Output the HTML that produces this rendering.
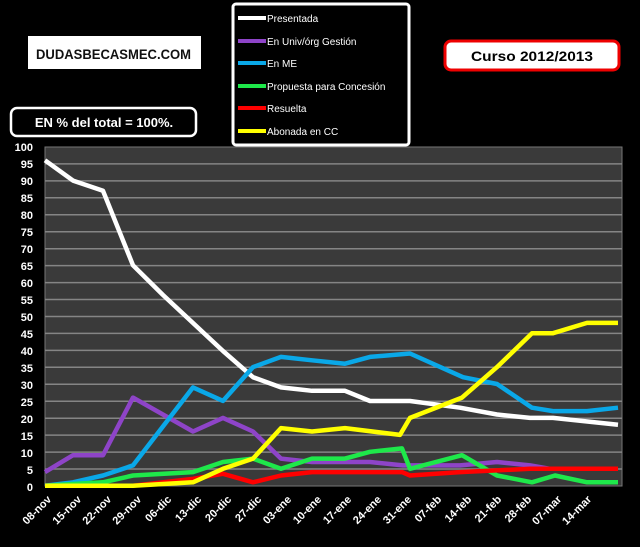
<!DOCTYPE html>
<html><head><meta charset="utf-8"><style>
html,body{margin:0;padding:0;background:#000;}
svg{display:block;}
text{font-family:"Liberation Sans",sans-serif;}
</style></head><body>
<svg width="640" height="547" viewBox="0 0 640 547" xmlns="http://www.w3.org/2000/svg">
<rect width="640" height="547" fill="#000"/>
<!-- logo -->
<rect x="28" y="36" width="173" height="33" fill="#fff"/>
<text x="36" y="59" font-size="14" font-weight="bold" fill="#111" textLength="155" lengthAdjust="spacingAndGlyphs">DUDASBECASMEC.COM</text>
<!-- curso -->
<rect x="445" y="41" width="174" height="29" rx="6" fill="#fff" stroke="#e00" stroke-width="3"/>
<text x="532" y="61" font-size="14" font-weight="bold" text-anchor="middle" fill="#000" textLength="122" lengthAdjust="spacingAndGlyphs">Curso 2012/2013</text>
<!-- EN% -->
<rect x="11" y="108" width="185" height="28" rx="6" fill="#000" stroke="#fff" stroke-width="2.5"/>
<text x="104" y="127" font-size="13" font-weight="bold" text-anchor="middle" fill="#fff" font-family="Liberation Serif">EN % del total = 100%.</text>
<!-- legend -->
<rect x="233" y="4" width="176" height="141" rx="3" fill="#000" stroke="#fff" stroke-width="3"/>
<g font-size="10" fill="#fff">
<line x1="238" y1="18" x2="266" y2="18" stroke="#fff" stroke-width="4"/><text x="267" y="22">Presentada</text>
<line x1="238" y1="41" x2="266" y2="41" stroke="#8e44c8" stroke-width="4"/><text x="267" y="45">En Univ/órg Gestión</text>
<line x1="238" y1="63" x2="266" y2="63" stroke="#0aa8e8" stroke-width="4"/><text x="267" y="67">En ME</text>
<line x1="238" y1="86" x2="266" y2="86" stroke="#1ee84a" stroke-width="4"/><text x="267" y="90">Propuesta para  Concesión</text>
<line x1="238" y1="108" x2="266" y2="108" stroke="#ff0000" stroke-width="4"/><text x="267" y="112">Resuelta</text>
<line x1="238" y1="131" x2="266" y2="131" stroke="#ffff00" stroke-width="4"/><text x="267" y="135">Abonada en CC</text>
</g>
<!-- plot area -->
<rect x="45" y="147" width="577" height="339" fill="#3a3a3a" stroke="#777" stroke-width="1"/>
<g stroke="#858585" stroke-width="1.5">
<line x1="45" x2="622" y1="163.9" y2="163.9"/><line x1="45" x2="622" y1="180.9" y2="180.9"/><line x1="45" x2="622" y1="197.8" y2="197.8"/><line x1="45" x2="622" y1="214.8" y2="214.8"/><line x1="45" x2="622" y1="231.7" y2="231.7"/><line x1="45" x2="622" y1="248.7" y2="248.7"/><line x1="45" x2="622" y1="265.6" y2="265.6"/><line x1="45" x2="622" y1="282.6" y2="282.6"/><line x1="45" x2="622" y1="299.5" y2="299.5"/><line x1="45" x2="622" y1="316.5" y2="316.5"/><line x1="45" x2="622" y1="333.4" y2="333.4"/><line x1="45" x2="622" y1="350.4" y2="350.4"/><line x1="45" x2="622" y1="367.3" y2="367.3"/><line x1="45" x2="622" y1="384.3" y2="384.3"/><line x1="45" x2="622" y1="401.2" y2="401.2"/><line x1="45" x2="622" y1="418.2" y2="418.2"/><line x1="45" x2="622" y1="435.1" y2="435.1"/><line x1="45" x2="622" y1="452.1" y2="452.1"/><line x1="45" x2="622" y1="469" y2="469"/>
</g>
<g font-size="11" font-weight="bold" fill="#fff" text-anchor="end">
<text x="33" y="151">100</text><text x="33" y="168">95</text><text x="33" y="185">90</text><text x="33" y="202">85</text><text x="33" y="219">80</text><text x="33" y="236">75</text><text x="33" y="253">70</text><text x="33" y="270">65</text><text x="33" y="287">60</text><text x="33" y="304">55</text><text x="33" y="321">50</text><text x="33" y="338">45</text><text x="33" y="355">40</text><text x="33" y="372">35</text><text x="33" y="389">30</text><text x="33" y="406">25</text><text x="33" y="423">20</text><text x="33" y="440">15</text><text x="33" y="457">10</text><text x="33" y="474">5</text><text x="33" y="491">0</text>
</g>
<g fill="none" stroke-width="4.5" stroke-linejoin="round">
<polyline stroke="#fff" points="45,160.3 73,180.6 103,190.8 133,265.3 163,295 193,323 223,351 253,377.2 281,387.4 312,390.8 345,390.8 370,401 410,401 460,407.7 497,414.5 530,417.9 553,417.9 618,424.7"/>
<polyline stroke="#8e44c8" points="45,472.1 73,455.2 103,455.2 133,397.6 193,431.5 223,417.9 253,431.5 281,458.6 312,462 370,462 403,465.4 460,465.4 497,462 530,465.4 550,468.8 618,468.8"/>
<polyline stroke="#0aa8e8" points="45,485.7 73,482.3 103,475.5 133,465.4 193,387.4 223,400.9 253,367.1 281,356.9 312,360.3 345,363.7 370,356.9 410,353.5 463,377.2 497,384 532,407.7 553,411.1 587,411.1 618,407.7"/>
<polyline stroke="#1ee84a" points="45,485.7 73,484 103,482.3 133,475.5 193,472.1 223,462 253,458.6 281,468.8 312,458.6 345,458.6 370,451.8 402,448.4 410,468.8 462,455.2 497,475.5 532,482.3 555,475.5 587,482.3 618,482.3"/>
<polyline stroke="#ff0000" points="45,485.7 133,485.7 193,478.9 223,473.8 253,482.3 281,475.5 312,472.1 402,472.1 410,475.5 460,472.1 530,468.8 618,468.8"/>
<polyline stroke="#ffff00" points="45,485.7 133,485.7 163,484 193,482.3 223,468.8 253,458.6 281,428.1 312,431.5 345,428.1 400,434.9 410,417.9 462,397.6 497,367.1 532,333.2 553,333.2 587,322.9 618,322.9"/>
</g>
<g font-size="11" font-weight="bold" fill="#fff" text-anchor="end">
<text transform="translate(52,500) rotate(-45)">08-nov</text>
<text transform="translate(82,500) rotate(-45)">15-nov</text>
<text transform="translate(112,500) rotate(-45)">22-nov</text>
<text transform="translate(142,500) rotate(-45)">29-nov</text>
<text transform="translate(172,500) rotate(-45)">06-dic</text>
<text transform="translate(202,500) rotate(-45)">13-dic</text>
<text transform="translate(232,500) rotate(-45)">20-dic</text>
<text transform="translate(262,500) rotate(-45)">27-dic</text>
<text transform="translate(292,500) rotate(-45)">03-ene</text>
<text transform="translate(322,500) rotate(-45)">10-ene</text>
<text transform="translate(352,500) rotate(-45)">17-ene</text>
<text transform="translate(382,500) rotate(-45)">24-ene</text>
<text transform="translate(412,500) rotate(-45)">31-ene</text>
<text transform="translate(442,500) rotate(-45)">07-feb</text>
<text transform="translate(472,500) rotate(-45)">14-feb</text>
<text transform="translate(502,500) rotate(-45)">21-feb</text>
<text transform="translate(532,500) rotate(-45)">28-feb</text>
<text transform="translate(562,500) rotate(-45)">07-mar</text>
<text transform="translate(592,500) rotate(-45)">14-mar</text>
</g>
</svg>
</body></html>
